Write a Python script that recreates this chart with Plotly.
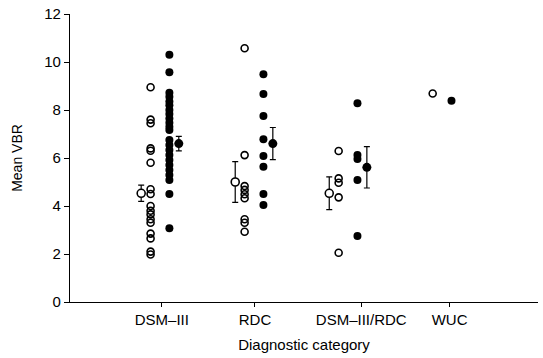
import plotly.graph_objects as go

# ---- data ----
categories = ["DSM–III", "RDC", "DSM–III/RDC", "WUC"]
cat_pos = [1, 2, 3, 4]
label_pos = [1.02, 2.01, 3.14, 4.08]

dsm_open = [8.95, 7.6, 7.45, 6.4, 6.3, 5.8, 4.7, 4.5, 4.0, 3.8, 3.65, 3.45, 3.3, 2.85, 2.65, 2.1, 1.98]
dsm_filled = [10.3, 9.57, 8.72, 8.55, 8.35, 8.2, 8.0, 7.83, 7.65, 7.47, 7.3, 7.17, 6.75, 6.54,
              6.33, 6.13, 5.92, 5.71, 5.5, 5.29, 5.08, 4.5, 3.07]
rdc_open = [10.57, 6.12, 4.83, 4.67, 4.49, 4.32, 3.45, 3.3, 2.93]
rdc_filled = [9.49, 8.67, 7.75, 6.78, 6.08, 5.64, 4.5, 4.04]
both_open = [6.29, 5.15, 4.97, 4.36, 2.05]
both_filled = [8.28, 6.13, 5.96, 5.08, 2.75]
wuc_open = [8.69]
wuc_filled = [8.39]

mean_open = [4.53, 5.0, 4.53]
sem_open = [0.34, 0.85, 0.68]
mean_filled = [6.6, 6.6, 5.61]
sem_filled = [0.3, 0.67, 0.86]

open_groups = [dsm_open, rdc_open, both_open, wuc_open]
filled_groups = [dsm_filled, rdc_filled, both_filled, wuc_filled]

pt_off = 0.1
mean_off = 0.2

fig = go.Figure()

ox, oy, fx, fy = [], [], [], []
for p, o, f in zip(cat_pos, open_groups, filled_groups):
    ox += [p - pt_off] * len(o)
    oy += o
    fx += [p + pt_off] * len(f)
    fy += f

fig.add_trace(go.Scatter(
    x=ox, y=oy, mode="markers",
    marker=dict(symbol="circle-open", size=7, color="black", line=dict(width=1.6)),
    showlegend=False, cliponaxis=False))
fig.add_trace(go.Scatter(
    x=fx, y=fy, mode="markers",
    marker=dict(symbol="circle", size=8, color="black"),
    showlegend=False, cliponaxis=False))

# means with error bars
fig.add_trace(go.Scatter(
    x=[p - mean_off for p in cat_pos[:3]], y=mean_open, mode="markers",
    error_y=dict(type="data", array=sem_open, color="black", thickness=1.2, width=3),
    marker=dict(symbol="circle", size=8, color="white", line=dict(width=1.6, color="black")),
    showlegend=False, cliponaxis=False))
fig.add_trace(go.Scatter(
    x=[p + mean_off for p in cat_pos[:3]], y=mean_filled, mode="markers",
    error_y=dict(type="data", array=sem_filled, color="black", thickness=1.2, width=3),
    marker=dict(symbol="circle", size=9, color="black"),
    showlegend=False, cliponaxis=False))

font_family = "Liberation Sans, Arial, sans-serif"

fig.update_layout(
    width=543, height=358,
    margin=dict(l=70, r=5, t=14, b=56),
    plot_bgcolor="white", paper_bgcolor="white",
    font=dict(family=font_family, color="black"),
    xaxis=dict(
        range=[0.043, 5.02],
        tickmode="array", tickvals=label_pos, ticktext=categories,
        ticks="outside", ticklen=4, tickwidth=1, tickcolor="black",
        showline=True, linecolor="black", linewidth=1.2,
        showgrid=False, zeroline=False,
        tickfont=dict(size=15),
        title=dict(text="Diagnostic category", font=dict(size=15), standoff=12),
    ),
    yaxis=dict(
        range=[0, 12], tickmode="array", tickvals=[0, 2, 4, 6, 8, 10, 12],
        ticks="outside", ticklen=5, tickwidth=1, tickcolor="black",
        showline=True, linecolor="black", linewidth=1.2,
        showgrid=False, zeroline=False,
        tickfont=dict(size=15),
        title=dict(text="Mean VBR", font=dict(size=14), standoff=18),
    ),
)

fig.write_html(
    "out.html",
    config={"displayModeBar": False},
    post_script="document.body.style.margin='0';document.body.style.overflow='hidden';",
)
